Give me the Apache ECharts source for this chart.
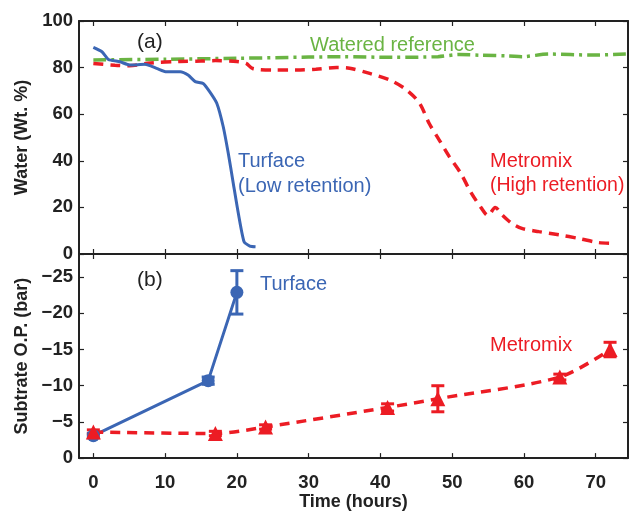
<!DOCTYPE html>
<html>
<head>
<meta charset="utf-8">
<script src="https://cdn.jsdelivr.net/npm/echarts@6/dist/echarts.min.js"></script>
<style>
  html, body { margin: 0; padding: 0; background: #fff; }
  #chart { width: 630px; height: 512px; }
</style>
</head>
<body>
<div id="chart"></div>
<script>
// panel (a): water content, [time (h), wt %]
const turfaceWater = [
  [0, 88.7], [1.2, 86.8], [2.1, 83.5], [3.7, 82.5], [5.1, 81.1], [7.2, 81.4],
  [8.8, 79.7], [10.2, 78.2], [12.1, 78.2], [13.2, 76.8], [14.2, 74], [15.3, 73.2],
  [16.2, 69.7], [17.2, 64.7], [18.1, 54.6], [18.8, 43.2], [19.5, 30.3],
  [20.2, 17.5], [21, 5.3], [21.8, 3.4], [22.6, 3.1]
]
const metromixWater = [
  [0, 81.8], [3, 81], [5, 80.8], [8, 82], [12, 82.6], [15, 82.8], [17, 83],
  [20, 82.6], [21.3, 81.8], [22.2, 79.6], [25, 79], [28.3, 79], [31, 79.3],
  [33.9, 80], [35.7, 79.7], [38.5, 77.5], [41.3, 74.7], [43.4, 71], [45.4, 65],
  [46.8, 56], [48.2, 48.9], [49.6, 41.8], [51.2, 34.6], [52.6, 26.5], [54, 20],
  [55, 16.5], [56, 20], [57, 16.7], [58.3, 13.2], [59.7, 11], [62.1, 9.6],
  [64.9, 8.2], [67.6, 6.7], [70.4, 4.9], [72.7, 4.6]
]
const wateredRef = [
  [0, 83.3], [10, 83.6], [20, 84], [30, 84.5], [34.7, 84.7], [41.7, 84.4],
  [48, 84.7], [51, 85.6], [54, 85.3], [57.9, 85], [59.7, 84.7], [63.5, 85.8],
  [69.4, 85.4], [74.2, 85.8]
]
// panel (b): substrate osmotic potential, [time (h), bar, error]
const turfaceOP = [[0, -3.1, 0.3], [16, -10.7, 0.5], [20, -22.9, 3]]
const metromixOP = [[0, -3.6, 0.3], [17, -3.4, 0.3], [24, -4.3, 0.3], [41, -7, 0.5], [48, -8.2, 1.8], [65, -11.2, 0.4], [72, -15, 1]]

const xTicks = [0, 10, 20, 30, 40, 50, 60, 70]
const opTicks = [-25, -20, -15, -10, -5, 0]

const BLUE = "#3b66b4"
const RED = "#ec1c24"
const GREEN = "#6ab443"
const FONT = "Liberation Sans"

const chart = echarts.init(document.getElementById("chart"))

function errorBars(color) {
  return function (params, api) {
    const x = api.value(0)
    const y = api.value(1)
    const e = api.value(2)
    const top = api.coord([x, y - e])
    const bot = api.coord([x, y + e])
    const style = { stroke: color, lineWidth: 3 }
    return {
      type: "group",
      children: [
        { type: "line", shape: { x1: top[0], y1: top[1], x2: bot[0], y2: bot[1] }, style },
        { type: "line", shape: { x1: top[0] - 6.5, y1: top[1], x2: top[0] + 6.5, y2: top[1] }, style },
        { type: "line", shape: { x1: bot[0] - 6.5, y1: bot[1], x2: bot[0] + 6.5, y2: bot[1] }, style }
      ]
    }
  }
}

const axisLine = { show: true, onZero: false, lineStyle: { color: "#222", width: 2 } }
const tick = { inside: true, length: 5, lineStyle: { color: "#222", width: 1.2 } }
const labelFont = { color: "#222", fontFamily: FONT, fontWeight: "bold", fontSize: 18.5 }
const titleFont = { color: "#222", fontFamily: FONT, fontWeight: "bold", fontSize: 18 }

function timeAxis(grid, pos, labels) {
  return {
    type: "value", gridIndex: grid, position: pos, min: -2, max: 74.5,
    axisLine,
    axisTick: { ...tick, customValues: xTicks },
    axisLabel: labels ? { ...labelFont, customValues: xTicks, margin: 15 } : { show: false },
    splitLine: { show: false },
    name: labels ? "Time (hours)" : "",
    nameLocation: "middle", nameGap: 30,
    nameTextStyle: titleFont
  }
}

const option = {
  animation: false,
  grid: [
    { left: 79, top: 21, width: 549, height: 233 },
    { left: 79, top: 254, width: 549, height: 208 }
  ],
  xAxis: [
    timeAxis(0, "bottom", false),
    timeAxis(0, "top", false),
    timeAxis(1, "bottom", true),
    timeAxis(1, "top", false)
  ],
  yAxis: [
    {
      type: "value", gridIndex: 0, min: 0, max: 100, interval: 20,
      axisLine, axisTick: tick, splitLine: { show: false },
      axisLabel: { ...labelFont, margin: 6 },
      name: "Water (Wt. %)", nameLocation: "middle", nameGap: 43,
      nameTextStyle: titleFont
    },
    {
      type: "value", gridIndex: 0, position: "right", min: 0, max: 100, interval: 20,
      axisLine, axisTick: tick, axisLabel: { show: false }, splitLine: { show: false }
    },
    {
      type: "value", gridIndex: 1, inverse: true, min: -28.2, max: 0,
      axisLine, axisTick: { ...tick, customValues: opTicks }, splitLine: { show: false },
      axisLabel: { ...labelFont, margin: 6, customValues: opTicks, formatter: v => String(v).replace("-", "\u2212") },
      name: "Subtrate O.P. (bar)", nameLocation: "middle", nameGap: 43,
      nameTextStyle: titleFont
    },
    {
      type: "value", gridIndex: 1, position: "right", inverse: true, min: -28.2, max: 0,
      axisLine, axisTick: { ...tick, customValues: opTicks }, axisLabel: { show: false }, splitLine: { show: false }
    }
  ],
  series: [
    {
      name: "Watered reference", type: "line", xAxisIndex: 0, yAxisIndex: 0,
      data: wateredRef, showSymbol: false, smooth: 0.3,
      lineStyle: { color: GREEN, width: 3.5, type: [13, 5, 3, 5] }
    },
    {
      name: "Metromix", type: "line", xAxisIndex: 0, yAxisIndex: 0,
      data: metromixWater, showSymbol: false, smooth: 0.3,
      lineStyle: { color: RED, width: 3.5, type: [10, 7] }
    },
    {
      name: "Turface", type: "line", xAxisIndex: 0, yAxisIndex: 0,
      data: turfaceWater, showSymbol: false, smooth: 0.2,
      lineStyle: { color: BLUE, width: 3 }
    },
    {
      type: "line", xAxisIndex: 2, yAxisIndex: 2,
      data: turfaceOP.map(d => [d[0], d[1]]),
      symbol: "circle", symbolSize: 13,
      itemStyle: { color: BLUE }, lineStyle: { color: BLUE, width: 3 }
    },
    {
      type: "custom", xAxisIndex: 2, yAxisIndex: 2, data: turfaceOP,
      renderItem: errorBars(BLUE), z: 3
    },
    {
      type: "line", xAxisIndex: 2, yAxisIndex: 2,
      data: metromixOP.map(d => [d[0], d[1]]), smooth: 0.3,
      symbol: "triangle", symbolSize: 15,
      itemStyle: { color: RED }, lineStyle: { color: RED, width: 3.5, type: [10, 7] }
    },
    {
      type: "custom", xAxisIndex: 2, yAxisIndex: 2, data: metromixOP,
      renderItem: errorBars(RED), z: 3
    }
  ],
  graphic: [
    { type: "text", left: 137, top: 32, style: { text: "(a)", fill: "#222", font: "21px " + FONT } },
    { type: "text", left: 310, top: 35, style: { text: "Watered reference", fill: GREEN, font: "20px " + FONT } },
    { type: "text", left: 238, top: 151, style: { text: "Turface", fill: BLUE, font: "20px " + FONT } },
    { type: "text", left: 238, top: 176, style: { text: "(Low retention)", fill: BLUE, font: "20px " + FONT } },
    { type: "text", left: 490, top: 151, style: { text: "Metromix", fill: RED, font: "20px " + FONT } },
    { type: "text", left: 490, top: 176, style: { text: "(High retention)", fill: RED, font: "19.5px " + FONT } },
    { type: "text", left: 137, top: 270, style: { text: "(b)", fill: "#222", font: "21px " + FONT } },
    { type: "text", left: 260, top: 274, style: { text: "Turface", fill: BLUE, font: "20px " + FONT } },
    { type: "text", left: 490, top: 335, style: { text: "Metromix", fill: RED, font: "20px " + FONT } }
  ]
}

chart.setOption(option)
</script>
</body>
</html>
